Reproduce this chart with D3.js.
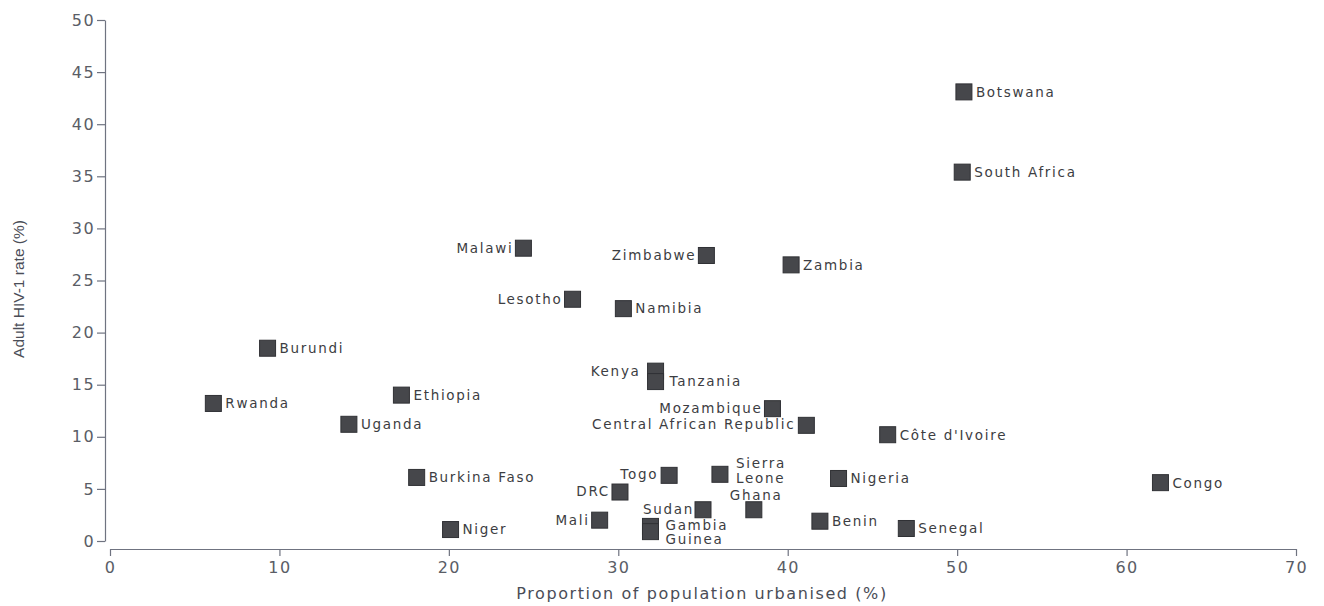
<!DOCTYPE html>
<html>
<head>
<meta charset="utf-8">
<script src="https://cdn.jsdelivr.net/npm/d3@7"></script>
<style>
  html, body { margin: 0; padding: 0; background: #ffffff; }
  svg { display: block; }
  .tick text { fill: #5a5d66; font-family: "DejaVu Sans", sans-serif; font-size: 16px; letter-spacing: 1.4px; }
  .axis path, .axis line { stroke: #6f7380; stroke-width: 1.2px; }
  .country { fill: #3c3d42; font-family: "DejaVu Sans", sans-serif; font-size: 13.5px; letter-spacing: 1.7px; }
  .title { fill: #4a4d57; font-family: "DejaVu Sans", sans-serif; }
</style>
</head>
<body>
<svg id="chart" width="1324" height="606"></svg>
<script>
// Urbanisation vs adult HIV-1 prevalence, sub-Saharan Africa
const countries = ["Botswana", "South Africa", "Malawi", "Zimbabwe", "Zambia", "Lesotho", "Namibia",
  "Burundi", "Ethiopia", "Rwanda", "Uganda", "Kenya", "Tanzania", "Mozambique", "Central African Republic",
  "Côte d'Ivoire", "Togo", "Sierra Leone", "Burkina Faso", "Nigeria", "Congo", "DRC", "Sudan", "Ghana",
  "Mali", "Benin", "Gambia", "Guinea", "Senegal", "Niger"];
const urbanised = [50.4, 50.3, 24.4, 35.2, 40.2, 27.3, 30.3,
  9.3, 17.2, 6.1, 14.1, 32.2, 32.2, 39.1, 41.1,
  45.9, 33.0, 36.0, 18.1, 43.0, 62.0, 30.1, 35.0, 38.0,
  28.9, 41.9, 31.9, 31.9, 47.0, 20.1];
const hivRate = [43.1, 35.4, 28.1, 27.4, 26.5, 23.2, 22.3,
  18.5, 14.0, 13.2, 11.2, 16.3, 15.3, 12.7, 11.1,
  10.2, 6.3, 6.4, 6.1, 6.0, 5.6, 4.7, 3.0, 3.0,
  2.0, 1.9, 1.4, 0.9, 1.2, 1.1];

const xTicks = [0, 10, 20, 30, 40, 50, 60, 70];
const yTicks = [0, 5, 10, 15, 20, 25, 30, 35, 40, 45, 50];
const xTitle = "Proportion of population urbanised (%)";
const yTitle = "Adult HIV-1 rate (%)";

// label placement: [anchor, dx, dy] relative to the marker centre; default is to the right
const labelPlacement = {
  "Malawi": ["end", -10, 0],
  "Zimbabwe": ["end", -10, 0],
  "Lesotho": ["end", -10, 0],
  "Kenya": ["end", -15, 0],
  "Tanzania": ["start", 14, 0],
  "Mozambique": ["end", -10, -1],
  "Central African Republic": ["end", -11, -1],
  "Togo": ["end", -11, -1],
  "DRC": ["end", -10, -1],
  "Sudan": ["end", -9, -1],
  "Mali": ["end", -10, 0],
  "Sierra Leone": ["start", 16, -11],
  "Ghana": ["start", -24, -15],
  "Gambia": ["start", 15, -1],
  "Guinea": ["start", 15, 8]
};

const svg = d3.select("#chart");
const x = d3.scaleLinear().domain([0, 70]).range([110, 1296]);
const y = d3.scaleLinear().domain([0, 50]).range([541, 20]);

// y axis
svg.append("g")
  .attr("class", "axis")
  .attr("transform", "translate(105,0)")
  .call(d3.axisLeft(y).tickValues(yTicks).tickSize(8).tickSizeOuter(0).tickPadding(2)
    .tickFormat(d3.format("d")));

// x axis, set slightly below the plotting area
svg.append("g")
  .attr("class", "axis")
  .attr("transform", "translate(0,549)")
  .call(d3.axisBottom(x).tickValues(xTicks).tickSize(7).tickSizeOuter(0).tickPadding(6)
    .tickFormat(d3.format("d")));

// axis titles
svg.append("text")
  .attr("class", "title")
  .attr("x", 702).attr("y", 599)
  .attr("text-anchor", "middle")
  .style("font-size", "16px")
  .style("letter-spacing", "1.6px")
  .text(xTitle);

svg.append("text")
  .attr("class", "title")
  .attr("transform", "translate(24,289) rotate(-90)")
  .attr("text-anchor", "middle")
  .style("font-family", "'Liberation Sans', sans-serif")
  .style("font-size", "15.5px")
  .text(yTitle);

const points = countries.map((c, i) => ({ name: c, u: urbanised[i], h: hivRate[i] }));
const size = 16;

// markers
svg.append("g").selectAll("rect")
  .data(points)
  .join("rect")
  .attr("x", d => x(d.u) - size / 2)
  .attr("y", d => y(d.h) - size / 2)
  .attr("width", size)
  .attr("height", size)
  .attr("fill", "#46474b")
  .attr("stroke", "#303135")
  .attr("stroke-width", 1);

// country labels
const labels = svg.append("g").selectAll("text")
  .data(points)
  .join("text")
  .attr("class", "country")
  .attr("text-anchor", d => (labelPlacement[d.name] || ["start"])[0])
  .attr("x", d => x(d.u) + (labelPlacement[d.name] || ["start", 12])[1])
  .attr("y", d => y(d.h) + (labelPlacement[d.name] || ["start", 12, 0])[2])
  .attr("dy", "0.36em");

labels.each(function (d) {
  const t = d3.select(this);
  if (d.name === "Sierra Leone") {
    const x0 = t.attr("x");
    t.append("tspan").attr("x", x0).text("Sierra");
    t.append("tspan").attr("x", x0).attr("dy", "15").text("Leone");
  } else {
    t.text(d.name);
  }
});
</script>
</body>
</html>
